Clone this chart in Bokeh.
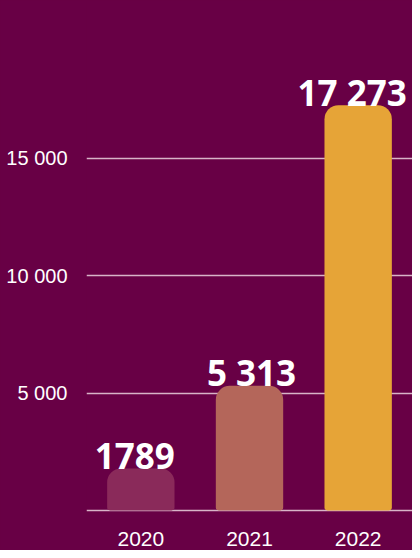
from bokeh.plotting import figure
from bokeh.models import FactorRange, Range1d, FixedTicker, ColumnDataSource
from bokeh.core.properties import value
from bokeh.embed import file_html
from bokeh.resources import INLINE

years = ["2020", "2021", "2022"]
values = [1789, 5313, 17273]
value_labels = ["1789", "5 313", "17 273"]
bar_colors = ["#8a2a5a", "#b4665a", "#e6a437"]
tick_values = [0, 5000, 10000, 15000]
tick_labels = ["", "5 000", "10 000", "15 000"]

BG = "#680045"
SANS = "'Liberation Sans', Arial, sans-serif"
label_shift = [-6, 2, -6]  # small horizontal nudges of the value labels (px)

src = ColumnDataSource(dict(year=years, value=values, label=value_labels,
                            color=bar_colors, dx=label_shift))

p = figure(x_range=FactorRange(*years), y_range=Range1d(-384, 21733),
           width=412, height=550, output_backend="svg", toolbar_location=None,
           min_border_left=86, min_border_right=0, min_border_top=0, min_border_bottom=31,
           background_fill_color=BG, border_fill_color=BG, outline_line_color=None)
p.styles = {"background-color": BG}

p.vbar(x="year", top="value", bottom=0, width=0.62, source=src,
       fill_color="color", line_color=None, border_radius=(14, 14, 3, 3))

p.text(x="year", y="value", text="label", source=src, y_offset=-13, x_offset="dx",
       text_align="center", text_baseline="alphabetic",
       text_font=value("Open Sans"), text_font_style="bold",
       text_font_size="35px", text_color="white")

for ax in p.axis:
    ax.axis_line_color = None
    ax.major_tick_line_color = None
    ax.minor_tick_line_color = None
    ax.major_label_text_font = SANS
    ax.major_label_text_color = "white"

p.yaxis.ticker = FixedTicker(ticks=tick_values)
p.yaxis.major_label_overrides = dict(zip(tick_values, tick_labels))
p.yaxis.major_label_standoff = 13
p.yaxis.major_label_text_font_size = "20px"

p.ygrid.ticker = FixedTicker(ticks=tick_values)
p.ygrid.grid_line_color = "#d8b4c8"
p.ygrid.grid_line_width = 1.5
p.xgrid.grid_line_color = None

p.xaxis.major_label_standoff = 6
p.xaxis.major_label_text_font_size = "21px"

open("out.html", "w").write(file_html(p, INLINE))
